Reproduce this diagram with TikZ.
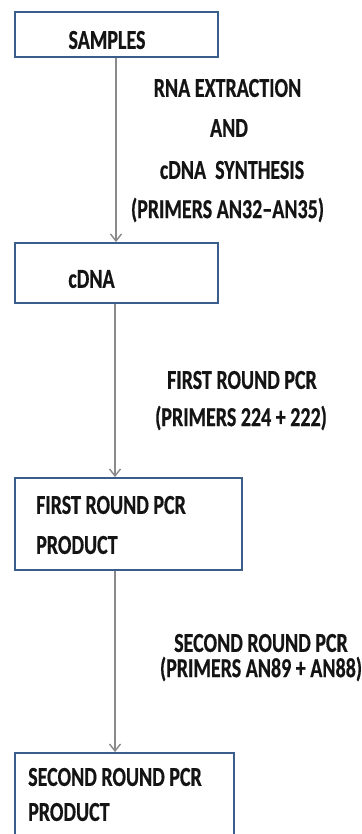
\documentclass[tikz,border=0pt]{standalone}
\usepackage{fontspec}
\setmainfont{Carlito}[BoldFeatures={FakeBold=0.6}]
\usetikzlibrary{arrows.meta}
\definecolor{boxblue}{HTML}{3A5E8C}
\definecolor{arrowgray}{HTML}{8A8A8A}
\definecolor{txt}{HTML}{141414}
\newcommand{\tallt}[1]{\scalebox{1}[1.37]{#1}}
\tikzset{
  box/.style={draw=boxblue, line width=1.8pt, fill=white},
  lbl/.style={font=\fontsize{20}{24}\selectfont\bfseries, text=txt, inner sep=0pt, anchor=center},
  flow/.style={draw=arrowgray, line width=1.4pt, -{Straight Barb[length=7pt,width=11pt,line width=1.4pt]}}
}
\begin{document}
\begin{tikzpicture}[x=1pt,y=-1pt]
\useasboundingbox (0,0) rectangle (361,834);
\clip (0,0) rectangle (361,834);
% boxes
\node[box, minimum width=203pt, minimum height=45pt, inner sep=0pt] (b1) at (116.5,34.5) {};
\node[box, minimum width=203pt, minimum height=60pt, inner sep=0pt] (b2) at (116.5,273) {};
\node[box, minimum width=227pt, minimum height=92pt, inner sep=0pt] (b3) at (128.5,524) {};
\node[box, minimum width=219pt, minimum height=86pt, inner sep=0pt] (b4) at (124.5,796) {};
% box texts
\node[lbl] (t1) at (107,40) {\tallt{SAMPLES}};
\node[lbl] (t2) at (91.5,279) {\tallt{cDNA}};
\node[lbl, anchor=west] (t3a) at (36,505) {\tallt{FIRST ROUND PCR}};
\node[lbl, anchor=west] (t3b) at (36,545) {\tallt{PRODUCT}};
\node[lbl, anchor=west] (t4a) at (28,777) {\tallt{SECOND ROUND PCR}};
\node[lbl, anchor=west] (t4b) at (28,812) {\tallt{PRODUCT}};
% connectors
\coordinate (a1s) at (116,57);
\coordinate (a1e) at (116,242);
\draw[flow] (b1.south -| a1s) -- (b2.north -| a1e);
\coordinate (a2) at (115,0);
\draw[flow] (b2.south -| a2) -- (b3.north -| a2);
\coordinate (a3) at (115,0);
\draw[flow] (b3.south -| a3) -- (b4.north -| a3);
% step labels
\node[lbl] (l1a) at (227.5,88) {\tallt{RNA EXTRACTION}};
\node[lbl] (l1b) at (229,128) {\tallt{AND}};
\node[lbl] (l1c) at (232,170) {\tallt{cDNA\ \ SYNTHESIS}};
\node[lbl] (l1d) at (227.5,210) {\tallt{(PRIMERS AN32\textendash AN35)}};
\node[lbl] (l2a) at (242,380) {\tallt{FIRST ROUND PCR}};
\node[lbl] (l2b) at (241,418) {\tallt{(PRIMERS 224 + 222)}};
\node[lbl] (l3a) at (261,643) {\tallt{SECOND ROUND PCR}};
\node[lbl] (l3b) at (261,669) {\tallt{(PRIMERS AN89 + AN88)}};
\end{tikzpicture}
\end{document}
